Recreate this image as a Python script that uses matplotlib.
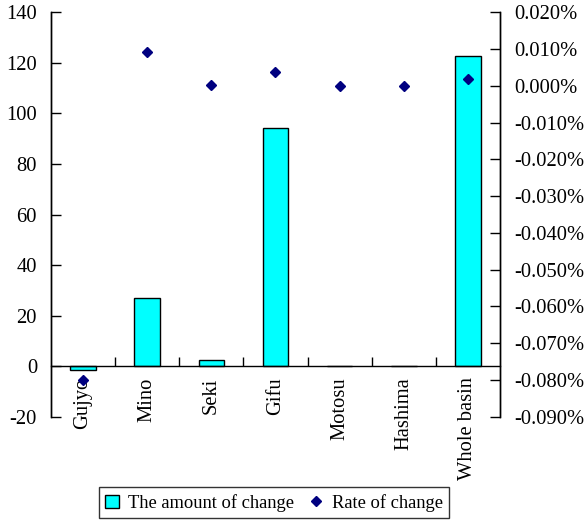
import numpy as np
import matplotlib.pyplot as plt
from matplotlib.ticker import FuncFormatter

plt.rcParams['font.family'] = ['Liberation Serif', 'DejaVu Serif']
plt.rcParams['font.size'] = 14.8
plt.rcParams['axes.unicode_minus'] = False

# values
areas = ['Gujyo', 'Mino', 'Seki', 'Gifu', 'Motosu', 'Hashima', 'Whole basin']
amount = [-1.4, 27.0, 2.5, 94.3, 0.0, 0.0, 122.7]
rate_pct = [-0.080, 0.0091, 0.0001, 0.0037, 0.0, 0.0, 0.0018]

x = np.arange(len(areas))

fig = plt.figure(figsize=(5.84, 5.2), dpi=100)
ax1 = fig.add_axes([51/584, 1-416.7/520, 449/584, 404.4/520])
ax2 = ax1.twinx()

bars = ax1.bar(x, amount, width=0.4, color='#00FFFF', edgecolor='black',
               linewidth=1, label='The amount of change')
pts, = ax2.plot(x, rate_pct, linestyle='none', marker='D', markersize=5.5,
                color='#000080', label='Rate of change')

# left axis
ax1.set_xlim(-0.5, len(areas) - 0.5)
ax1.set_ylim(-20, 140)
ax1.set_yticks(np.arange(-20, 141, 20))
ax1.tick_params(axis='y', direction='in', length=7, width=1, pad=10)

# category axis sits on zero
ax1.spines['top'].set_visible(False)
ax1.spines['bottom'].set_position(('data', 0))
ax1.set_xticks(x[:-1] + 0.5)
ax1.set_xticklabels([])
ax1.tick_params(axis='x', which='major', direction='in', length=6.5, width=1)
ax1.set_xticks(x, minor=True)
ax1.set_xticklabels(areas, minor=True, rotation=90)
ax1.tick_params(axis='x', which='minor', length=0, pad=8)

# right axis
ax2.set_ylim(-0.090, 0.020)
ax2.set_yticks(np.linspace(-0.090, 0.020, 12))
ax2.yaxis.set_major_formatter(FuncFormatter(lambda v, p: '%.3f%%' % v))
ax2.tick_params(axis='y', direction='in', length=7, width=1, pad=10)
ax2.spines['top'].set_visible(False)
ax2.spines['bottom'].set_visible(False)

for ax in (ax1, ax2):
    for s in ax.spines.values():
        s.set_linewidth(1)

leg = fig.legend(handles=[bars, pts], loc='lower center', ncol=2,
                 bbox_to_anchor=(274/584, 2/520), borderaxespad=0,
                 frameon=True, fancybox=False, fontsize=13.3,
                 edgecolor='black', handlelength=0.75, handletextpad=0.5,
                 columnspacing=0.8, borderpad=0.35)
leg.get_frame().set_linewidth(1)

fig.savefig('out.png', dpi=100)
